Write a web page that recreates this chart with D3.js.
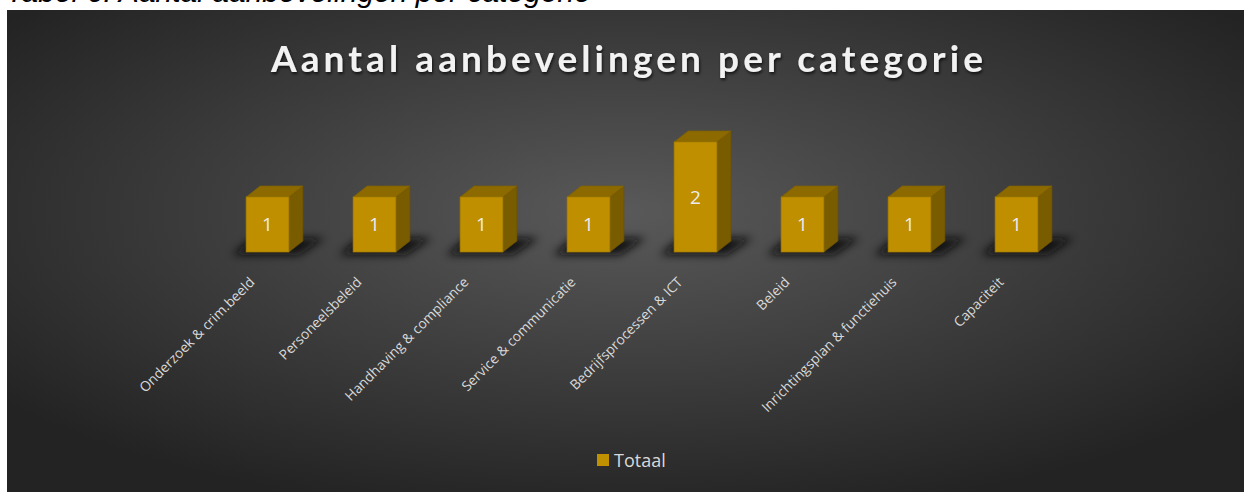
<!DOCTYPE html>
<html>
<head>
<meta charset="utf-8">
<script src="https://cdn.jsdelivr.net/npm/d3@7"></script>
<style>
	body { margin: 0; background: #fff; overflow: hidden; }
	svg { display: block; }
</style>
</head>
<body>
<div class="container"></div>
<script>
var categories = ['Onderzoek & crim.beeld', 'Personeelsbeleid', 'Handhaving & compliance',
	'Service & communicatie', 'Bedrijfsprocessen & ICT', 'Beleid',
	'Inrichtingsplan & functiehuis', 'Capaciteit'];
var totals = [1, 1, 1, 1, 2, 1, 1, 1];
var seriesName = 'Totaal';
var chartTitle = 'Aantal aanbevelingen per categorie';
var caption = 'Tabel 6: Aantal aanbevelingen per categorie';

var data = categories.map(function(c, i) { return { cat: c, val: totals[i] }; });

var svg = d3.select('.container')
	.append('svg')
	.attr('width', 1244)
	.attr('height', 492);

var defs = svg.append('defs');
var grad = defs.append('radialGradient')
	.attr('id', 'bg')
	.attr('cx', '50%').attr('cy', '42%').attr('r', '64%');
grad.append('stop').attr('offset', '0%').attr('stop-color', '#595959');
grad.append('stop').attr('offset', '100%').attr('stop-color', '#232323');

defs.append('filter').attr('id', 'blur')
	.attr('x', '-30%').attr('y', '-100%').attr('width', '160%').attr('height', '300%')
	.append('feGaussianBlur').attr('stdDeviation', 4);

var ts = defs.append('filter').attr('id', 'tshadow')
	.attr('x', '-5%').attr('y', '-30%').attr('width', '110%').attr('height', '160%');
ts.append('feDropShadow').attr('dx', 1).attr('dy', 2).attr('stdDeviation', 1.5)
	.attr('flood-color', '#000').attr('flood-opacity', 0.7);

// caption of the table above the chart, mostly cut off by the page top
svg.append('text')
	.attr('x', 6)
	.attr('y', 2)
	.attr('font-family', 'Liberation Sans, Arial, sans-serif')
	.attr('font-style', 'italic')
	.attr('font-size', 30)
	.attr('fill', '#000')
	.text(caption);

svg.append('rect')
	.attr('x', 7).attr('y', 10)
	.attr('width', 1237).attr('height', 482)
	.attr('fill', 'url(#bg)');

var title = svg.append('text')
	.attr('x', 629)
	.attr('y', 72)
	.attr('text-anchor', 'middle')
	.attr('font-family', 'Lato, Open Sans, sans-serif')
	.attr('font-weight', 'bold')
	.attr('font-size', 37)
	.attr('fill', '#f2f2f2')
	.attr('filter', 'url(#tshadow)')
	.text(chartTitle);
// stretch the letter spacing so the title spans the same width as the original
var tw = title.node().getComputedTextLength();
title.attr('letter-spacing', ((712 - tw) / (chartTitle.length - 1)) + 'px');

var x = d3.scaleBand()
	.domain(categories)
	.range([214, 1070])
	.paddingInner(0.6)
	.paddingOuter(0.3);

var y = d3.scaleLinear()
	.domain([0, 2])
	.range([252, 142]);

var dx = 14, dy = 11;

var bars = svg.append('g').selectAll('g')
	.data(data)
	.enter()
	.append('g');

// floor shadow
bars.append('path')
	.attr('d', function(d) {
		var x0 = x(d.cat), y0 = y(0);
		return 'M' + (x0 - 14) + ',' + (y0 + 3) +
			'L' + (x0 + x.bandwidth() + 10) + ',' + (y0 + 3) +
			'L' + (x0 + x.bandwidth() + 36) + ',' + (y0 - 14) +
			'L' + (x0 + 6) + ',' + (y0 - 14) + 'Z';
	})
	.attr('fill', '#080808')
	.attr('opacity', 0.9)
	.attr('filter', 'url(#blur)');

// right side
bars.append('path')
	.attr('d', function(d) {
		var x1 = x(d.cat) + x.bandwidth();
		return 'M' + x1 + ',' + y(d.val) +
			'L' + (x1 + dx) + ',' + (y(d.val) - dy) +
			'L' + (x1 + dx) + ',' + (y(0) - dy) +
			'L' + x1 + ',' + y(0) + 'Z';
	})
	.attr('fill', '#7a5c00')
	.attr('stroke', '#6e5300')
	.attr('stroke-width', 0.7);

// top
bars.append('path')
	.attr('d', function(d) {
		var x0 = x(d.cat), x1 = x0 + x.bandwidth(), yt = y(d.val);
		return 'M' + x0 + ',' + yt +
			'L' + (x0 + dx) + ',' + (yt - dy) +
			'L' + (x1 + dx) + ',' + (yt - dy) +
			'L' + x1 + ',' + yt + 'Z';
	})
	.attr('fill', '#8c6a00')
	.attr('stroke', '#7e5f00')
	.attr('stroke-width', 0.7);

// front
bars.append('rect')
	.attr('x', function(d) { return x(d.cat); })
	.attr('y', function(d) { return y(d.val); })
	.attr('width', x.bandwidth())
	.attr('height', function(d) { return y(0) - y(d.val); })
	.attr('fill', '#bf8f00')
	.attr('stroke', '#a57c00')
	.attr('stroke-width', 0.7);

bars.append('text')
	.attr('x', function(d) { return x(d.cat) + x.bandwidth() / 2; })
	.attr('y', function(d) { return (y(d.val) + y(0)) / 2; })
	.attr('dy', '0.35em')
	.attr('text-anchor', 'middle')
	.attr('font-family', 'Open Sans, sans-serif')
	.attr('font-size', 19)
	.attr('fill', '#ececec')
	.text(function(d) { return d.val; });

// category labels
svg.append('g').selectAll('text')
	.data(categories)
	.enter()
	.append('text')
	.attr('transform', function(c) {
		return 'translate(' + (x(c) + x.bandwidth() / 2 - 12) + ',283) rotate(-45)';
	})
	.attr('text-anchor', 'end')
	.attr('font-family', 'Open Sans, sans-serif')
	.attr('font-size', 13.8)
	.attr('fill', '#d9d9d9')
	.text(function(c) { return c; });

// legend
svg.append('rect')
	.attr('x', 597).attr('y', 454)
	.attr('width', 12).attr('height', 12)
	.attr('fill', '#bf9000');
svg.append('text')
	.attr('x', 614).attr('y', 467)
	.attr('font-family', 'Open Sans, sans-serif')
	.attr('font-size', 18)
	.attr('fill', '#d9d9d9')
	.text(seriesName);
</script>
</body>
</html>
